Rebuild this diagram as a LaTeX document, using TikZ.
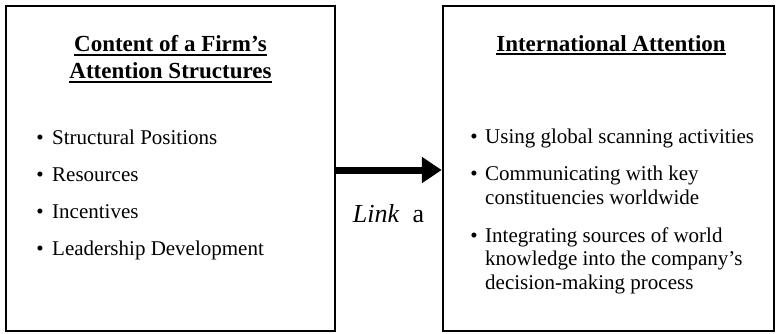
\documentclass[tikz,border=0pt]{standalone}
\usepackage{fontspec}
\setmainfont{Liberation Serif}
\usetikzlibrary{arrows.meta}
\begin{document}
\begin{tikzpicture}[x=1pt,y=-1pt,
  frame/.style={draw=black,line width=2.4pt,inner sep=0pt},
  body/.style={font=\fontsize{21}{24}\selectfont,anchor=base west,inner sep=0pt},
  dot/.style={font=\fontsize{21}{24}\selectfont,anchor=base,inner sep=0pt},
  head/.style={font=\fontsize{23}{27}\selectfont\bfseries,anchor=base,inner sep=0pt},
  rule/.style={line width=2.4pt},
  link/.style={line width=7pt,-{Triangle[length=20pt,width=25pt]}}]
\useasboundingbox (0,0) rectangle (776,333);

% the two boxes
\node[frame,minimum width=329pt,minimum height=325pt] (lbox) at (170.5,168.5) {};
\node[frame,minimum width=331pt,minimum height=325pt] (rbox) at (608.5,168.5) {};

% left box: heading
\node[head] (lh1) at (170.5,51) {Content of a Firm’s};
\node[head] (lh2) at (170.5,78) {Attention Structures};
\draw[rule] ([yshift=-4pt]lh1.base west) -- ([yshift=-4pt]lh1.base east);
\draw[rule] ([yshift=-4pt]lh2.base west) -- ([yshift=-4pt]lh2.base east);

% left box: items
\node[dot] (lb1) at (40,144) {•};
\node[body] (lt1) at (52,144) {Structural Positions};
\node[dot] (lb2) at (40,181) {•};
\node[body] (lt2) at (52,181) {Resources};
\node[dot] (lb3) at (40,218) {•};
\node[body] (lt3) at (52,218) {Incentives};
\node[dot] (lb4) at (40,255) {•};
\node[body] (lt4) at (52,255) {Leadership Development};

% right box: heading
\node[head] (rh1) at (611,51) {International Attention};
\draw[rule] ([yshift=-3pt]rh1.base west) -- ([yshift=-3pt]rh1.base east);

% right box: items
\node[dot] (rb1) at (474,143) {•};
\node[body] (rt1) at (485,143) {Using global scanning activities};
\node[dot] (rb2) at (474,180) {•};
\node[body] (rt2) at (485,180) {Communicating with key};
\node[body] (rt2b) at (485,204) {constituencies worldwide};
\node[dot] (rb3) at (474,242) {•};
\node[body] (rt3) at (485,242) {Integrating sources of world};
\node[body] (rt3b) at (485,265) {knowledge into the company’s};
\node[body] (rt3c) at (485,289) {decision-making process};

% connector between the boxes
\draw[link] (lbox.east |- 0,170) -- (rbox.west |- 0,170);
\node[font=\fontsize{26}{29}\selectfont,inner sep=0pt] (lk) at (388.5,214) {\textit{Link}\hspace{0.5em}a};
\end{tikzpicture}
\end{document}
